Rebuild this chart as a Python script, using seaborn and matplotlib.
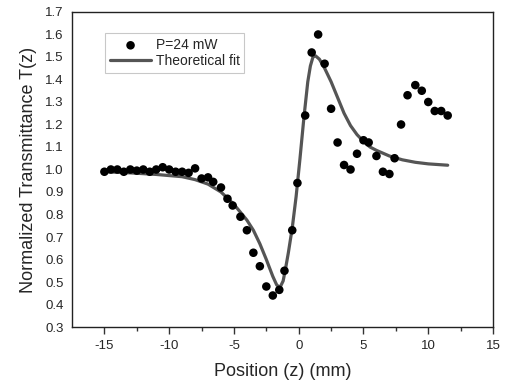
import numpy as np
import pandas as pd
import matplotlib
matplotlib.use('Agg')
import matplotlib.pyplot as plt
import seaborn as sns
from matplotlib.ticker import FixedLocator

# measured points, P=24 mW
pos = [-15.0, -14.5, -14.0, -13.5, -13.0, -12.5, -12.0, -11.5, -11.0, -10.5,
       -10.0, -9.5, -9.0, -8.5, -8.0, -7.5, -7.0, -6.6, -6.0, -5.5,
       -5.1, -4.5, -4.0, -3.5, -3.0, -2.5, -2.0, -1.5, -1.1, -0.5,
       -0.1, 0.5, 1.0, 1.5, 2.0, 2.5, 3.0, 3.5, 4.0, 4.5,
       5.0, 5.4, 6.0, 6.5, 7.0, 7.4, 7.9, 8.4, 9.0, 9.5,
       10.0, 10.5, 11.0, 11.5]
trans = [0.99, 1.00, 1.00, 0.99, 1.00, 0.995, 1.00, 0.99, 1.00, 1.01,
         1.00, 0.99, 0.99, 0.985, 1.005, 0.96, 0.965, 0.945, 0.92, 0.87,
         0.84, 0.79, 0.73, 0.63, 0.57, 0.48, 0.44, 0.465, 0.55, 0.73,
         0.94, 1.24, 1.52, 1.60, 1.47, 1.27, 1.12, 1.02, 1.00, 1.07,
         1.13, 1.12, 1.06, 0.99, 0.98, 1.05, 1.20, 1.33, 1.375, 1.35,
         1.30, 1.26, 1.26, 1.24]

# theoretical fit curve
fit_pos = [-15.0, -13.0, -11.0, -9.0, -8.0, -7.0, -6.0, -5.0, -4.0, -3.5,
           -3.0, -2.5, -2.0, -1.7, -1.45, -1.2, -1.0, -0.8, -0.5, -0.2,
           0.1, 0.4, 0.7, 0.9, 1.1, 1.3, 1.6, 2.0, 2.5, 3.0,
           3.5, 4.0, 4.5, 5.0, 5.5, 6.0, 7.0, 8.0, 9.0, 10.0,
           11.5]
fit_trans = [0.99, 0.985, 0.978, 0.968, 0.955, 0.935, 0.90, 0.845, 0.775, 0.73,
             0.67, 0.60, 0.525, 0.487, 0.475, 0.505, 0.565, 0.63, 0.74, 0.88,
             1.05, 1.23, 1.39, 1.46, 1.50, 1.505, 1.49, 1.45, 1.39, 1.32,
             1.25, 1.195, 1.155, 1.125, 1.10, 1.085, 1.06, 1.043, 1.032, 1.025,
             1.019]

df = pd.DataFrame({'z': pos, 'T': trans})
fit = pd.DataFrame({'z': fit_pos, 'T': fit_trans})

sns.set_style('white')
plt.rcParams['font.family'] = ['Liberation Sans', 'DejaVu Sans']
plt.rcParams['axes.unicode_minus'] = False

fig = plt.figure(figsize=(5.05, 3.83), dpi=100)
ax = fig.add_axes([0.1426, 0.1462, 0.8337, 0.8225])

sns.scatterplot(data=df, x='z', y='T', ax=ax, color='black', s=38,
                edgecolor='none', label='P=24 mW', zorder=3)
sns.lineplot(data=fit, x='z', y='T', ax=ax, color='#555555', linewidth=2.3,
             label='Theoretical fit', zorder=2)

ax.set_xlim(-17.5, 15)
ax.set_ylim(0.3, 1.7)

ax.xaxis.set_major_locator(FixedLocator([-15, -10, -5, 0, 5, 10, 15]))
ax.xaxis.set_minor_locator(FixedLocator([-12.5, -7.5, -2.5, 2.5, 7.5, 12.5]))
ax.yaxis.set_major_locator(FixedLocator(np.round(np.arange(0.3, 1.71, 0.1), 1)))
ax.yaxis.set_minor_locator(FixedLocator([0.4, 0.6, 0.8, 1.0, 1.2, 1.4, 1.6]))
ax.set_yticklabels(['%.1f' % v for v in np.arange(0.3, 1.71, 0.1)])

ax.tick_params(axis='x', which='major', direction='out', length=5, width=1,
               bottom=True, labelsize=9.5, color='#333333', pad=4)
ax.tick_params(axis='x', which='minor', direction='out', length=3, width=1,
               bottom=True, color='#333333')
ax.tick_params(axis='y', which='major', length=0, left=True, labelsize=9.5, pad=6)
ax.tick_params(axis='y', which='minor', direction='out', length=5, width=1,
               left=True, color='#333333')

for sp in ax.spines.values():
    sp.set_color('#222222')
    sp.set_linewidth(1.0)

ax.set_xlabel('Position (z) (mm)', fontsize=13, labelpad=8)
ax.set_ylabel('Normalized Transmittance T(z)', fontsize=13, labelpad=6)

leg = ax.legend(loc='upper left', bbox_to_anchor=(0.078, 0.933),
                borderaxespad=0, fontsize=10, frameon=True, fancybox=False,
                handlelength=3.0, handletextpad=0.3, borderpad=0.35,
                labelspacing=0.15)
leg.get_frame().set_edgecolor('#bbbbbb')
leg.get_frame().set_linewidth(0.8)

fig.savefig('out.png', dpi=100)
